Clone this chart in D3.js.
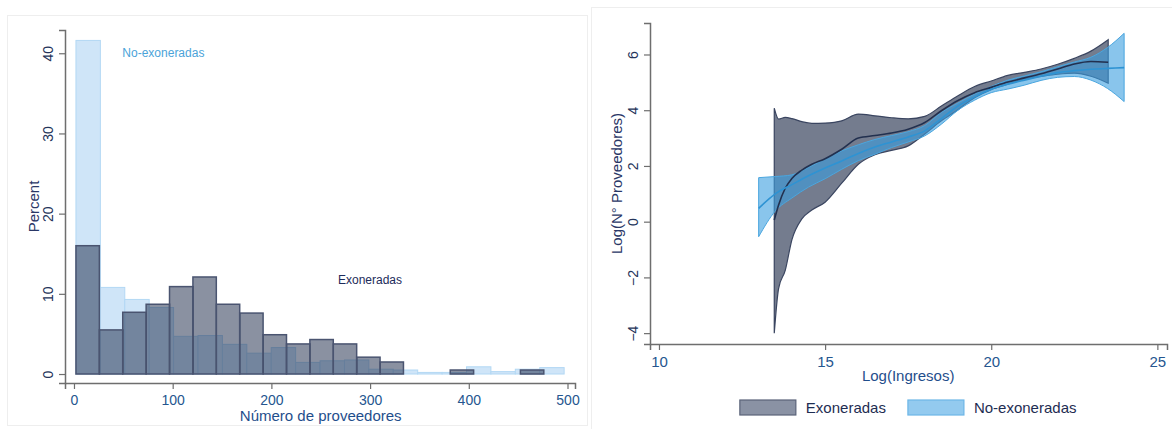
<!DOCTYPE html>
<html>
<head>
<meta charset="utf-8">
<script src="https://cdn.jsdelivr.net/npm/d3@7"></script>
<style>
body { margin: 0; background: #fff; }
svg text { font-family: "Liberation Sans", Arial, sans-serif; }
</style>
</head>
<body>
<svg width="1172" height="429"></svg>
<script>
/* Histogram: percent of firms per bin of number of suppliers */
var exoBinStart = 2, exoBinWidth = 23.7;
var exoPercent = [16, 5.5, 7.7, 8.7, 10.9, 12.1, 8.7, 7.6, 4.9, 3.75, 4.3, 3.75, 2.1, 1.5, 0, 0, 0.5, 0, 0, 0.5];
var noBinStart = 2, noBinWidth = 24.73;
var noPercent = [41.6, 10.8, 9.3, 8.3, 4.7, 4.8, 3.7, 2.6, 3.3, 1.45, 1.65, 1.75, 0.6, 0.5, 0.2, 0.2, 0.9, 0.3, 0.6, 0.8];
var histXTicks = [0, 100, 200, 300, 400, 500];
var histYTicks = [0, 10, 20, 30, 40];

/* Lowess fit with confidence band: log(suppliers) vs log(revenue) */
var exoIngresos = [13.47, 13.6, 13.8, 14.0, 14.3, 14.6, 15.0, 15.5, 16.0, 16.5, 17.0, 17.5, 18.0, 18.5, 19.0, 19.5, 20.0, 20.5, 21.0, 21.5, 22.0, 22.5, 23.0, 23.52];
var exoHigh = [4.07, 3.68, 3.74, 3.70, 3.59, 3.53, 3.54, 3.62, 3.86, 3.80, 3.73, 3.69, 3.78, 4.15, 4.52, 4.85, 5.05, 5.25, 5.36, 5.48, 5.65, 5.86, 6.12, 6.53];
var exoLow = [-4.0, -2.4, -1.75, -0.65, 0.1, 0.42, 0.70, 1.38, 2.06, 2.40, 2.56, 2.72, 3.15, 3.62, 4.02, 4.45, 4.74, 4.93, 5.12, 5.21, 5.29, 5.33, 5.22, 4.97];
var exoFit = [0.06, 0.6, 1.2, 1.55, 1.85, 2.06, 2.26, 2.60, 3.0, 3.09, 3.18, 3.32, 3.56, 3.98, 4.35, 4.63, 4.82, 5.01, 5.16, 5.31, 5.48, 5.66, 5.75, 5.72];

var noIngresos = [13.0, 13.5, 14.0, 14.5, 15.0, 15.5, 16.0, 16.5, 17.0, 17.5, 18.0, 18.5, 19.0, 19.5, 20.0, 20.5, 21.0, 21.5, 22.0, 22.5, 23.0, 23.5, 24.0];
var noHigh = [1.58, 1.62, 1.68, 1.95, 2.25, 2.54, 2.76, 2.95, 3.09, 3.23, 3.45, 3.92, 4.26, 4.58, 4.85, 5.08, 5.23, 5.38, 5.56, 5.73, 5.90, 6.25, 6.76];
var noLow = [-0.54, 0.38, 0.85, 1.24, 1.54, 1.88, 2.19, 2.42, 2.66, 2.86, 3.08, 3.50, 4.0, 4.36, 4.63, 4.76, 4.90, 5.07, 5.18, 5.21, 5.08, 4.78, 4.31];
var noFit = [0.48, 1.0, 1.33, 1.65, 1.93, 2.18, 2.45, 2.68, 2.86, 3.04, 3.26, 3.70, 4.15, 4.48, 4.75, 4.93, 5.08, 5.22, 5.35, 5.42, 5.47, 5.50, 5.53];

var fitXTicks = [10, 15, 20, 25];
var fitYTicks = [-4, -2, 0, 2, 4, 6];
var seriesNames = ["Exoneradas", "No-exoneradas"];

var svg = d3.select("svg");

/* panel frames */
svg.append("rect").attr("x", 7.5).attr("y", 15.5).attr("width", 580).attr("height", 410)
    .attr("fill", "#fff").attr("stroke", "#eeeeee");
svg.append("rect").attr("x", 591.5).attr("y", 7.5).attr("width", 600).attr("height", 440)
    .attr("fill", "#fff").attr("stroke", "#eeeeee");

/* styling helpers for Stata-like axes */
function styleAxis(g, color) {
  g.select(".domain").attr("stroke", "#6e6e6e").attr("stroke-width", 1.5);
  g.selectAll(".tick line").attr("stroke", "#6e6e6e").attr("stroke-width", 1.2);
  g.selectAll(".tick text").attr("fill", color).style("font-size", "14px");
}
function rotateYLabels(g) {
  g.selectAll(".tick text")
      .attr("x", 0).attr("y", -12).attr("dy", 0)
      .attr("text-anchor", "middle")
      .attr("transform", "rotate(-90)");
}

/* ---------- left: histogram ---------- */
var hx = d3.scaleLinear().domain([-9.1, 507.6]).range([65, 575]),
    hy = d3.scaleLinear().domain([-1.12, 42.9]).range([383, 30]);

var noBars = noPercent.map(function(p, i) {
  return {x0: noBinStart + i * noBinWidth, x1: noBinStart + (i + 1) * noBinWidth, p: p};
});
var exoBars = exoPercent.map(function(p, i) {
  return {x0: exoBinStart + i * exoBinWidth, x1: exoBinStart + (i + 1) * exoBinWidth, p: p};
});

svg.append("g").selectAll("rect")
    .data(noBars.filter(function(d) { return d.p > 0; }))
  .enter().append("rect")
    .attr("x", function(d) { return hx(d.x0); })
    .attr("width", function(d) { return hx(d.x1) - hx(d.x0); })
    .attr("y", function(d) { return hy(d.p); })
    .attr("height", function(d) { return hy(0) - hy(d.p); })
    .attr("fill", "#cfe5f8")
    .attr("stroke", "#b3d8f4")
    .attr("stroke-width", 1);

svg.append("g").selectAll("rect")
    .data(exoBars.filter(function(d) { return d.p > 0; }))
  .enter().append("rect")
    .attr("x", function(d) { return hx(d.x0); })
    .attr("width", function(d) { return hx(d.x1) - hx(d.x0); })
    .attr("y", function(d) { return hy(d.p); })
    .attr("height", function(d) { return hy(0) - hy(d.p); })
    .attr("fill", "#1e2c4a")
    .attr("fill-opacity", 0.52)
    .attr("stroke", "#4a5470")
    .attr("stroke-width", 1.5);

var hxAxis = svg.append("g")
    .attr("transform", "translate(0," + hy.range()[0] + ")")
    .call(d3.axisBottom(hx).tickValues(histXTicks).tickSizeOuter(0).tickSize(6).tickPadding(6));
styleAxis(hxAxis, "#25568f");

var hyAxis = svg.append("g")
    .attr("transform", "translate(" + hx.range()[0] + ",0)")
    .call(d3.axisLeft(hy).tickValues(histYTicks).tickSizeOuter(0).tickSize(6));
styleAxis(hyAxis, "#24345a");
rotateYLabels(hyAxis);

svg.append("text")
    .attr("x", (hx(0) + hx(500)) / 2).attr("y", 421)
    .attr("text-anchor", "middle").attr("fill", "#1f4e8c")
    .style("font-size", "15px")
    .text("Número de proveedores");

svg.append("text")
    .attr("transform", "translate(39," + (hy.range()[0] + hy.range()[1]) / 2 + ") rotate(-90)")
    .attr("text-anchor", "middle").attr("fill", "#2a3766")
    .style("font-size", "15px")
    .text("Percent");

svg.append("text")
    .attr("x", hx(49)).attr("y", hy(40)).attr("dy", "0.35em")
    .attr("fill", "#4ba3d9").style("font-size", "12px")
    .text(seriesNames[1]);
svg.append("text")
    .attr("x", hx(267.5)).attr("y", hy(11.8)).attr("dy", "0.35em")
    .attr("fill", "#1d2b5a").style("font-size", "12px")
    .text(seriesNames[0]);

/* ---------- right: lowess bands ---------- */
var fx = d3.scaleLinear().domain([9.73, 25.29]).range([650, 1167]),
    fy = d3.scaleLinear().domain([-4.39, 7.13]).range([344, 23]);

function bandData(xs, lo, hi, fit) {
  return xs.map(function(x, i) { return {x: x, lo: lo[i], hi: hi[i], fit: fit[i]}; });
}
var exoData = bandData(exoIngresos, exoLow, exoHigh, exoFit),
    noData = bandData(noIngresos, noLow, noHigh, noFit);

var area = d3.area()
    .x(function(d) { return fx(d.x); })
    .y0(function(d) { return fy(d.lo); })
    .y1(function(d) { return fy(d.hi); })
    .curve(d3.curveMonotoneX);
var line = d3.line()
    .x(function(d) { return fx(d.x); })
    .y(function(d) { return fy(d.fit); })
    .curve(d3.curveMonotoneX);

svg.append("path").datum(exoData)
    .attr("d", area)
    .attr("fill", "#3f4a63").attr("fill-opacity", 0.72)
    .attr("stroke", "#3a4560").attr("stroke-width", 1.2);
svg.append("path").datum(noData)
    .attr("d", area)
    .attr("fill", "#3a9fe0").attr("fill-opacity", 0.6)
    .attr("stroke", "#4aa6df").attr("stroke-width", 1);
svg.append("path").datum(exoData)
    .attr("d", line)
    .attr("fill", "none").attr("stroke", "#22304f").attr("stroke-width", 1.6);
svg.append("path").datum(noData)
    .attr("d", line)
    .attr("fill", "none").attr("stroke", "#2e93d3").attr("stroke-width", 1.6);

var fxAxis = svg.append("g")
    .attr("transform", "translate(0," + fy.range()[0] + ")")
    .call(d3.axisBottom(fx).tickValues(fitXTicks).tickSizeOuter(0).tickSize(6).tickPadding(6));
styleAxis(fxAxis, "#25568f");
fxAxis.selectAll(".tick text").style("font-size", "15px");

var fyAxis = svg.append("g")
    .attr("transform", "translate(" + fx.range()[0] + ",0)")
    .call(d3.axisLeft(fy).tickValues(fitYTicks).tickSizeOuter(0).tickSize(6));
styleAxis(fyAxis, "#24345a");
rotateYLabels(fyAxis);

svg.append("text")
    .attr("x", (fx(10) + fx(25)) / 2).attr("y", 381)
    .attr("text-anchor", "middle").attr("fill", "#1f4e8c")
    .style("font-size", "15px")
    .text("Log(Ingresos)");

svg.append("text")
    .attr("transform", "translate(622," + (fy.range()[0] + fy.range()[1]) / 2 + ") rotate(-90)")
    .attr("text-anchor", "middle").attr("fill", "#2a3766")
    .style("font-size", "15px")
    .text("Log(N° Proveedores)");

/* legend, centred under the plot */
var legendFill = ["#8a92a4", "#93caef"],
    legendStroke = ["#5a6379", "#6db6e7"];
var legend = svg.append("g");
var lx = 0;
seriesNames.forEach(function(name, i) {
  var item = legend.append("g").attr("transform", "translate(" + lx + ",0)");
  item.append("rect").attr("x", 0).attr("y", -7).attr("width", 56).attr("height", 15)
      .attr("fill", legendFill[i]).attr("stroke", legendStroke[i]).attr("stroke-width", 1.2);
  var t = item.append("text").attr("x", 66).attr("y", 5.5)
      .attr("fill", "#1e2d52").style("font-size", "15px").text(name);
  lx += 66 + t.node().getComputedTextLength() + 22;
});
var legendWidth = lx - 22;
legend.attr("transform", "translate(" + ((fx(10) + fx(25)) / 2 - legendWidth / 2) + ",407)");
</script>
</body>
</html>
